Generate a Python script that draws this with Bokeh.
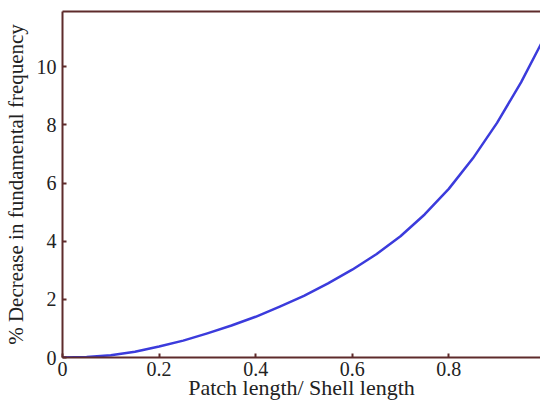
from bokeh.plotting import figure
from bokeh.models import Range1d, LinearAxis, FixedTicker
from bokeh.embed import file_html
from bokeh.resources import INLINE

# data
ratio = [0.0, 0.05, 0.1, 0.15, 0.2, 0.25, 0.3, 0.35, 0.4, 0.45, 0.5,
         0.55, 0.6, 0.65, 0.7, 0.75, 0.8, 0.85, 0.9, 0.95, 1.0]
decrease = [0.0, 0.02, 0.08, 0.2, 0.38, 0.58, 0.83, 1.1, 1.4, 1.75, 2.12,
            2.55, 3.02, 3.55, 4.17, 4.92, 5.8, 6.85, 8.07, 9.47, 11.07]
x_ticks = [0, 0.2, 0.4, 0.6, 0.8]
y_ticks = [0, 2, 4, 6, 8, 10]
x_title = "Patch length/ Shell length"
y_title = "% Decrease in fundamental frequency"

AX = "#5e2b2b"
FONT = "Liberation Serif"
TXT = "#222222"

p = figure(width=540, height=405, output_backend="svg", toolbar_location=None,
           x_range=Range1d(0, 0.99), y_range=Range1d(0, 11.9),
           min_border_left=62, min_border_right=0, min_border_top=11,
           min_border_bottom=48, x_axis_location=None, y_axis_location=None)
p.outline_line_color = None
p.xgrid.visible = False
p.ygrid.visible = False
p.background_fill_color = "white"
p.border_fill_color = "white"

p.line(ratio, decrease, line_color="#3b3bdc", line_width=2.5, line_join="round")

xa = LinearAxis(ticker=FixedTicker(ticks=x_ticks), axis_label=x_title)
ya = LinearAxis(ticker=FixedTicker(ticks=y_ticks), axis_label=y_title)
ta = LinearAxis(ticker=FixedTicker(ticks=[]), major_label_text_font_size="0px")
for ax in (xa, ya):
    ax.axis_line_color = AX
    ax.axis_line_width = 2
    ax.major_tick_line_color = AX
    ax.major_tick_line_width = 2
    ax.major_tick_in = 4
    ax.major_tick_out = 0
    ax.minor_tick_line_color = None
    ax.major_label_text_font = FONT
    ax.major_label_text_font_size = "20px"
    ax.major_label_text_color = TXT
    ax.axis_label_text_font = FONT
    ax.axis_label_text_font_style = "normal"
    ax.axis_label_text_color = TXT
xa.axis_label_text_font_size = "22px"
ya.axis_label_text_font_size = "21px"
xa.major_label_standoff = 4
xa.axis_label_standoff = -4
ya.major_label_standoff = 6
ya.axis_label_standoff = 6
ta.axis_line_color = AX
ta.axis_line_width = 2
ta.major_tick_line_color = None
ta.minor_tick_line_color = None
p.add_layout(xa, "below")
p.add_layout(ya, "left")
p.add_layout(ta, "above")

open("out.html", "w").write(file_html(p, INLINE))
